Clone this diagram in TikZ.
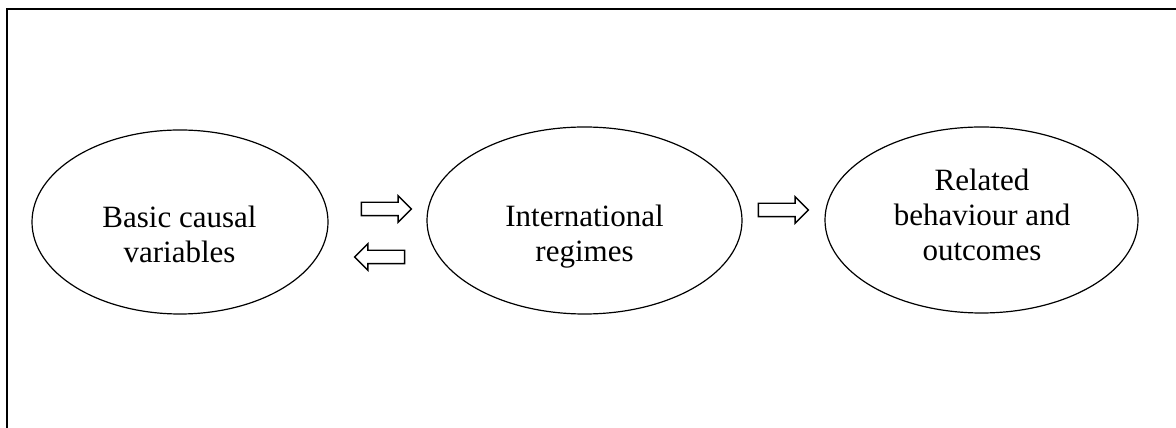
\documentclass[tikz,border=0pt]{standalone}
\usepackage{fontspec}
\setmainfont{Liberation Serif}
\usetikzlibrary{positioning}
\usetikzlibrary{shapes.geometric}
\usetikzlibrary{shapes.arrows}
\tikzset{
        every path/.style={line width=1.2pt},
        oval/.style={draw,ellipse,inner sep=0pt},
        oval text/.style={align=center,font=\fontsize{31pt}{35pt}\selectfont},
        block arrow/.style={draw,single arrow,inner xsep=0pt,inner ysep=6pt,minimum height=50pt,
                single arrow head extend=6.5pt,line width=1.4pt},
        }
\begin{document}
\begin{tikzpicture}[x=1pt,y=1pt]

		\useasboundingbox (0,0) rectangle (1176,428);

		% frame.....................
		\coordinate (frame corner) at (7,419);
		\draw [line width=2pt] (7,-5) -- (frame corner) -- (1180,419);

		% ovals......................
		\node [oval, minimum width=296pt, minimum height=184pt] (basic) at (180,206) {};
		\node [oval, minimum width=315pt, minimum height=187pt] (regimes) at (584.5,207.5) {};
		\node [oval, minimum width=313pt, minimum height=186pt] (outcomes) at (981.5,208) {};

		% oval labels....................
		\node [oval text] (basic text) at (179.5,194) {Basic causal\\variables};
		\node [oval text] (regimes text) at (584.5,191) {International\\regimes};
		\node [oval text] (outcomes text) at (982,213.5) {Related\\behaviour and\\outcomes};

		% block arrows...................
		\node [block arrow] (basic to regimes) at (383,219) {};
		\node [block arrow, shape border rotate=180] (regimes to basic) at (383,171) {};
		\node [block arrow] (regimes to outcomes) at (780,218) {};

	\end{tikzpicture}
\end{document}
